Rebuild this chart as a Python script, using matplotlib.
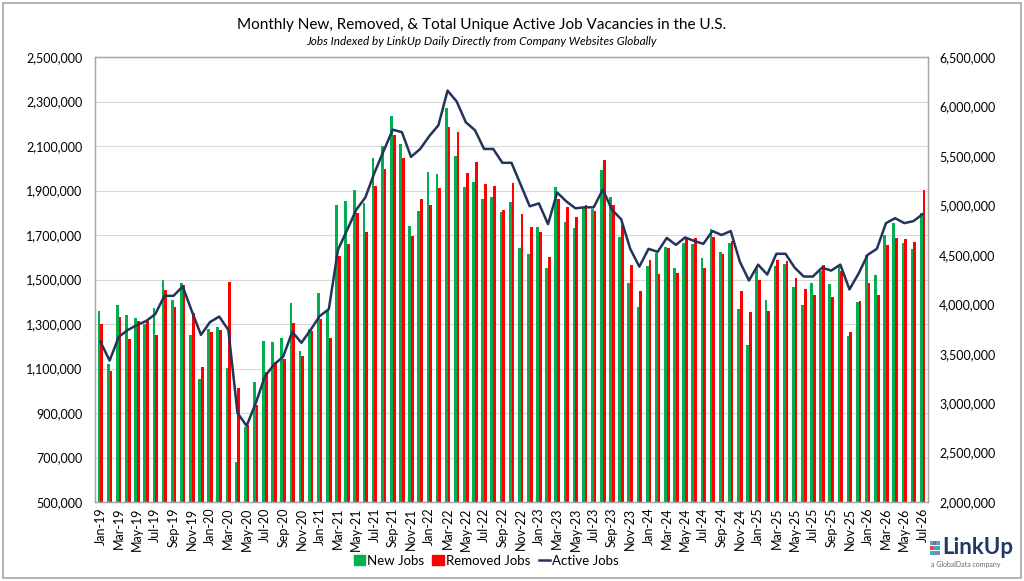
import matplotlib
matplotlib.use("Agg")
import matplotlib.pyplot as plt
import numpy as np
from matplotlib.patches import Rectangle
from matplotlib.lines import Line2D
from matplotlib.ticker import FuncFormatter

plt.rcParams["font.family"] = ["Lato", "DejaVu Sans"]

# monthly values, Jan-19 .. Jul-26 (thousands for bars, millions for the line)
months = [f"{m}-{y:02d}" for y in range(19, 27)
          for m in ["Jan", "Feb", "Mar", "Apr", "May", "Jun", "Jul", "Aug", "Sep", "Oct", "Nov", "Dec"]][:91]

new_jobs = [
    1358, 1122, 1384, 1339, 1327, 1300, 1372, 1498, 1408, 1486, 1252, 1053,
    1279, 1288, 1104, 678, 838, 1039, 1224, 1218, 1236, 1393, 1179, 1276,
    1441, 1363, 1836, 1851, 1902, 1842, 2047, 2100, 2235, 2108, 1742, 1808,
    1983, 1976, 2271, 2054, 1917, 1940, 1860, 1872, 1803, 1848, 1642, 1613,
    1737, 1553, 1916, 1757, 1731, 1824, 1818, 1992, 1872, 1692, 1484, 1375,
    1561, 1618, 1647, 1550, 1665, 1660, 1595, 1726, 1622, 1665, 1367, 1204,
    1550, 1408, 1561, 1571, 1466, 1385, 1483, 1538, 1481, 1555, 1246, 1400,
    1610, 1520, 1699, 1753, 1664, 1637, 1800,
]
removed_jobs = [
    1300, 1089, 1330, 1233, 1313, 1313, 1250, 1453, 1378, 1474, 1351, 1105,
    1264, 1273, 1487, 1012, 845, 936, 1083, 1128, 1143, 1303, 1158, 1267,
    1324, 1236, 1604, 1658, 1797, 1713, 1920, 1995, 2148, 2046, 1697, 1860,
    1836, 1911, 2187, 2161, 1977, 2027, 1929, 1919, 1812, 1934, 1794, 1736,
    1713, 1600, 1860, 1824, 1782, 1833, 1809, 2037, 1836, 1746, 1565, 1447,
    1589, 1525, 1642, 1528, 1687, 1687, 1550, 1690, 1613, 1674, 1447, 1354,
    1498, 1360, 1588, 1581, 1508, 1457, 1430, 1564, 1423, 1540, 1264, 1403,
    1486, 1432, 1655, 1685, 1680, 1670, 1902,
]
active_jobs = [
    3.62, 3.43, 3.67, 3.74, 3.79, 3.83, 3.90, 4.085, 4.085, 4.18, 3.93, 3.69,
    3.82, 3.875, 3.74, 2.90, 2.77, 3.00, 3.27, 3.39, 3.47, 3.72, 3.61, 3.74,
    3.88, 3.95, 4.55, 4.75, 4.955, 5.08, 5.33, 5.55, 5.765, 5.74, 5.49, 5.57,
    5.70, 5.81, 6.16, 6.05, 5.84, 5.76, 5.57, 5.57, 5.43, 5.43, 5.21, 4.99,
    5.02, 4.81, 5.13, 5.04, 4.97, 4.98, 4.98, 5.16, 4.955, 4.86, 4.56, 4.38,
    4.56, 4.53, 4.67, 4.60, 4.675, 4.64, 4.61, 4.74, 4.70, 4.74, 4.43, 4.24,
    4.40, 4.30, 4.51, 4.51, 4.37, 4.28, 4.28, 4.37, 4.34, 4.40, 4.15, 4.31,
    4.50, 4.56, 4.82, 4.87, 4.82, 4.84, 4.91,
]
left_ticks = list(range(500_000, 2_500_001, 200_000))
right_ticks = list(range(2_000_000, 6_500_001, 500_000))

GREEN, RED, NAVY, GRID = "#00B050", "#FF0000", "#22345A", "#D9D9D9"
fmt = FuncFormatter(lambda v, _: f"{v:,.0f}")

fig = plt.figure(figsize=(10.24, 5.81), dpi=100)
fig.patches.append(Rectangle((0.003, 0.005), 0.994, 0.99, transform=fig.transFigure,
                             fill=False, edgecolor="#A6A6A6", lw=1.2))

ax = fig.add_axes([95 / 1024, 1 - 502 / 581, 833 / 1024, 445 / 581])
x = np.arange(len(months))
w = 0.3
ax.bar(x - w / 2, np.array(new_jobs) * 1000, width=w, color=GREEN, zorder=2)
ax.bar(x + w / 2, np.array(removed_jobs) * 1000, width=w, color=RED, zorder=2)
ax.set_ylim(left_ticks[0], left_ticks[-1])
ax.set_yticks(left_ticks)
ax.yaxis.set_major_formatter(fmt)
ax.grid(axis="y", color=GRID, lw=0.8, zorder=0)
ax.set_xlim(-0.6, len(months) - 0.4)
ax.set_xticks(x[::2])
ax.set_xticklabels(months[::2], rotation=90, fontsize=8.5)
ax.tick_params(axis="both", length=0, labelsize=9)
ax.tick_params(axis="y", pad=9)
ax.tick_params(axis="x", pad=4)

ax2 = ax.twinx()
ax2.plot(x, np.array(active_jobs) * 1e6, color=NAVY, lw=1.8, zorder=3)
ax2.set_ylim(right_ticks[0], right_ticks[-1])
ax2.set_yticks(right_ticks)
ax2.yaxis.set_major_formatter(fmt)
ax2.tick_params(axis="y", length=0, labelsize=9, pad=8)
for a in (ax, ax2):
    for s in a.spines.values():
        s.set_color("#A6A6A6")
        s.set_linewidth(0.9)

fig.text(0.47, 0.957, "Monthly New, Removed, & Total Unique Active Job Vacancies in the U.S.",
         ha="center", va="center", fontsize=11)
fig.text(0.47, 0.928, "Jobs Indexed by LinkUp Daily Directly from Company Websites Globally",
         ha="center", va="center", fontsize=8.5, style="italic")

handles = [Rectangle((0, 0), 1, 1, color=GREEN), Rectangle((0, 0), 1, 1, color=RED),
           Line2D([], [], color=NAVY, lw=1.8)]
fig.legend(handles, ["New Jobs", "Removed Jobs", "Active Jobs"], loc="center",
           bbox_to_anchor=(0.475, 0.035), ncol=3, frameon=False, fontsize=9.5,
           handlelength=0.9, handleheight=0.7, handletextpad=0.15, columnspacing=0.6)

# logo, laid out in pixel units
lg = fig.add_axes([926 / 1024, 4 / 581, 94 / 1024, 42 / 581])
lg.set_xlim(926, 1020)
lg.set_ylim(46 + 535, 4 + 535)
lg.axis("off")
dot_cols = [["#4FA3E0", "#E2434B", "#4FA3E0"],
            ["#E2434B", "#6C8EBF", "#2BB3A8"],
            ["#4FA3E0", "#2BB3A8", "#6C8EBF"]]
for i in range(3):
    for j in range(3):
        lg.scatter(932 + j * 3.2, 547 + i * 5, s=5, color=dot_cols[i][j], marker="s", lw=0)
lg.text(942, 552, "LinkUp", fontsize=16, color="#1F3864", fontweight="bold", va="center", ha="left")
lg.text(931, 568, "a GlobalData company", fontsize=5, color="#666666", va="center", ha="left")

fig.savefig("out.png", dpi=100)
